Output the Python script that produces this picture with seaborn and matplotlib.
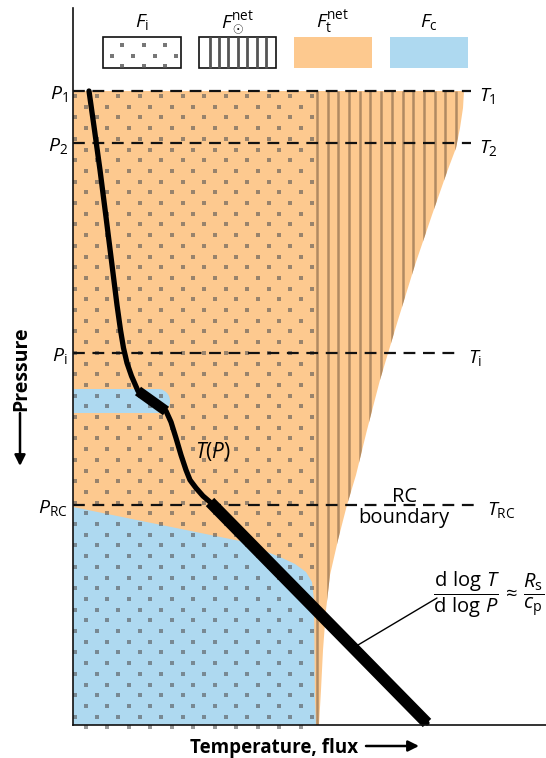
import numpy as np
import pandas as pd
import matplotlib
matplotlib.use("Agg")
import matplotlib.pyplot as plt
from matplotlib.patches import Polygon, Rectangle
import seaborn as sns

# ---- schematic data (canvas units, pressure increases downward) ----
level_y = [91, 143, 353, 505]
level_left = [r"$P_1$", r"$P_2$", r"$P_\mathrm{i}$", r"$P_\mathrm{RC}$"]
level_right = [r"$T_1$", r"$T_2$", r"$T_\mathrm{i}$", r"$T_\mathrm{RC}$"]
level_right_x = [479, 479, 468, 487]

# temperature profile T(P)
tp_x = [89, 94.5, 100, 106, 112, 117, 120.5, 123.5, 127, 131.5, 138, 152, 166,
        171, 176, 181, 186, 190, 196, 203, 210, 427]
tp_y = [91, 130, 170, 217, 265, 305, 330, 348, 363, 376, 391, 401, 411,
        422, 438, 455, 470, 480, 488, 496, 502, 723]
# convective (adiabatic) segments of the profile
blob_seg_x = [138, 166]
blob_seg_y = [391, 411]
conv_seg_x = [210, 427]
conv_seg_y = [502, 723]

# right edge of the net thermal flux region
ft_edge_x = [464, 463, 460, 456, 447, 432, 415, 398, 380, 367, 356, 347,
             338, 330, 326, 323, 321, 319]
ft_edge_y = [91, 108, 128, 148, 172, 215, 265, 320, 380, 430, 475, 505,
             540, 575, 610, 650, 690, 725]

# convective flux: lower convective zone boundary
fc_low_x = [240, 262, 280, 295, 306, 312, 314, 315, 316]
fc_low_y = [541, 550, 557, 564, 572, 582, 600, 700, 725]
fc_low_top = 507
# detached convective layer
fc_blob_top, fc_blob_bottom, fc_blob_right = 389, 413, 170

# stellar net flux column starts here
fsun_left = 317

# legend
legend_labels = [r"$F_\mathrm{i}$", r"$F_\odot^\mathrm{net}$",
                 r"$F_\mathrm{t}^\mathrm{net}$", r"$F_\mathrm{c}$"]

ORANGE = "#FDC98F"
BLUE = "#AED9F0"
INK = "#111111"
STRIPE = "#B08A62"

sns.set_theme(style="white")
plt.rcParams["font.family"] = ["Open Sans", "DejaVu Sans"]
plt.rcParams["text.color"] = "black"
plt.rcParams["mathtext.fontset"] = "custom"
plt.rcParams["mathtext.rm"] = "Open Sans"
plt.rcParams["mathtext.it"] = "Open Sans:italic"
plt.rcParams["mathtext.bf"] = "Open Sans:bold"
plt.rcParams["lines.scale_dashes"] = False

W, H = 546, 758
X0, YB, YT = 73, 725, 8
fig = plt.figure(figsize=(W / 100, H / 100), dpi=100)
ax = fig.add_axes([0, 0, 1, 1])
ax.set_xlim(0, W)
ax.set_ylim(H, 0)
ax.set_xticks([])
ax.set_yticks([])
for s in ("top", "right"):
    ax.spines[s].set_visible(False)
ax.spines["left"].set_position(("data", X0))
ax.spines["left"].set_bounds(YT, YB)
ax.spines["bottom"].set_position(("data", YB))
ax.spines["bottom"].set_bounds(X0, W)
for s in ("left", "bottom"):
    ax.spines[s].set_color(INK)
    ax.spines[s].set_linewidth(1.2)
    ax.spines[s].set_zorder(8)

# net thermal flux (orange)
top = level_y[0]
ft_poly = Polygon([(X0, top)] + list(zip(ft_edge_x, ft_edge_y)) + [(X0, YB)],
                  closed=True, facecolor=ORANGE, edgecolor="none", zorder=1)
ax.add_patch(ft_poly)

# stellar net flux stripes, clipped to the orange region
stripe_x = np.arange(fsun_left, max(ft_edge_x), 10.7)
vl = ax.vlines(stripe_x, top, YB, colors=STRIPE, linewidth=1.8, zorder=2)
vl.set_clip_path(ft_poly)

# convective flux (blue)
low_pts = [(X0, fc_low_top)] + list(zip(fc_low_x, fc_low_y)) + [(X0, YB)]
ax.add_patch(Polygon(low_pts, closed=True, facecolor=BLUE,
                     edgecolor="none", zorder=3))
r = (fc_blob_bottom - fc_blob_top) / 2
cy = fc_blob_top + r
cx = fc_blob_right - r
t = np.linspace(np.pi / 2, -np.pi / 2, 40)
blob_pts = ([(X0, fc_blob_top)] + list(zip(cx + r * np.cos(t), cy - r * np.sin(t)))
            + [(X0, fc_blob_bottom)])
ax.add_patch(Polygon(blob_pts, closed=True, facecolor=BLUE,
                     edgecolor="none", zorder=3))

# interior flux stipple
dots = []
for i, yy in enumerate(np.arange(96, 728, 10.7)):
    x_start = 75.1 if i % 2 == 0 else 85.85
    for xx in np.arange(x_start, 314, 21.5):
        dots.append((xx, yy))
dots = pd.DataFrame(dots, columns=["x", "y"])
sns.scatterplot(data=dots, x="x", y="y", ax=ax, marker="s", s=4.8,
                color="#555555", alpha=0.6, linewidth=0, zorder=4,
                legend=False)

# pressure levels
for y, lab_l, lab_r, xr in zip(level_y, level_left, level_right, level_right_x):
    ax.plot([X0, xr - 8], [y, y], color=INK, lw=1.6, dashes=(8.5, 5.5), zorder=5)
    ax.text(68, y + 7.5, lab_l, ha="right", va="baseline", fontsize=14)
    ax.text(xr, y + 10, lab_r, ha="left", va="baseline", fontsize=14)

# temperature profile
sns.lineplot(x=tp_x, y=tp_y, sort=False, estimator=None, ax=ax,
             color="black", linewidth=3.8, zorder=6)
sns.lineplot(x=blob_seg_x, y=blob_seg_y, sort=False, estimator=None, ax=ax,
             color="black", linewidth=7.5, solid_capstyle="butt", zorder=6)
sns.lineplot(x=conv_seg_x, y=conv_seg_y, sort=False, estimator=None, ax=ax,
             color="black", linewidth=8.5, solid_capstyle="butt", zorder=6)
ax.set_xlim(0, W)
ax.set_ylim(H, 0)
ax.set_xlabel("")
ax.set_ylabel("")

ax.text(195, 458, r"$T(P)$", ha="left", va="baseline", fontsize=15, zorder=7)
ax.text(405, 502, "RC", ha="center", va="baseline", fontsize=14.5)
ax.text(403.5, 523, "boundary", ha="center", va="baseline", fontsize=14.5)

# lapse-rate annotation
ax.plot([358, 437], [645, 598], color="black", lw=1.0, zorder=7)
ax.text(433, 595,
        r"$\dfrac{\mathrm{d\ log}\ T}{\mathrm{d\ log}\ P}\,\approx\,\dfrac{R_\mathrm{s}}{c_\mathrm{p}}$",
        ha="left", va="center", fontsize=14.5)

# axis titles with arrows
ax.text(21, 369, "Pressure", rotation=90, ha="center", va="center",
        fontweight="bold", fontsize=14)
ax.annotate("", xy=(20, 466), xytext=(20, 413),
            arrowprops=dict(arrowstyle="-|>", lw=1.8, color="black",
                            mutation_scale=16, shrinkA=0, shrinkB=0))
ax.text(274, 753, "Temperature, flux", ha="center", va="baseline",
        fontweight="bold", fontsize=13.5)
ax.annotate("", xy=(419, 746), xytext=(366, 746),
            arrowprops=dict(arrowstyle="-|>", lw=1.8, color="black",
                            mutation_scale=16, shrinkA=0, shrinkB=0))

# legend
box_x = [(103, 181), (199, 276), (294, 372), (390, 468)]
box_top, box_bottom = 37, 68
for (x1, x2), lab in zip(box_x, legend_labels):
    ax.text((x1 + x2) / 2, 27, lab, ha="center", va="baseline", fontsize=14)
# F_i key
ax.add_patch(Rectangle((103, box_top), 78, box_bottom - box_top,
                       facecolor="white", edgecolor=INK, lw=1.2, zorder=5))
key_dots = []
for j, yy in enumerate([45, 55.7, 66.4]):
    xs = np.arange(111.5, 180, 21.5) if j == 1 else np.arange(122.3, 180, 21.5)
    key_dots += [(xx, yy) for xx in xs]
key_dots = pd.DataFrame(key_dots, columns=["x", "y"])
sns.scatterplot(data=key_dots, x="x", y="y", ax=ax, marker="s", s=4.8,
                color="#555555", alpha=0.8, linewidth=0, zorder=6, legend=False)
# F_sun key
ax.add_patch(Rectangle((199, box_top), 77, box_bottom - box_top,
                       facecolor="white", edgecolor=INK, lw=1.2, zorder=5))
ax.vlines(np.arange(209.5, 270, 9.4), box_top, box_bottom, colors="#555555",
          linewidth=2.0, zorder=6)
ax.add_patch(Rectangle((294, box_top), 78, box_bottom - box_top,
                       facecolor=ORANGE, edgecolor="none", zorder=5))
ax.add_patch(Rectangle((390, box_top), 78, box_bottom - box_top,
                       facecolor=BLUE, edgecolor="none", zorder=5))
ax.set_xlabel("")
ax.set_ylabel("")

fig.savefig("out.png", dpi=100)
